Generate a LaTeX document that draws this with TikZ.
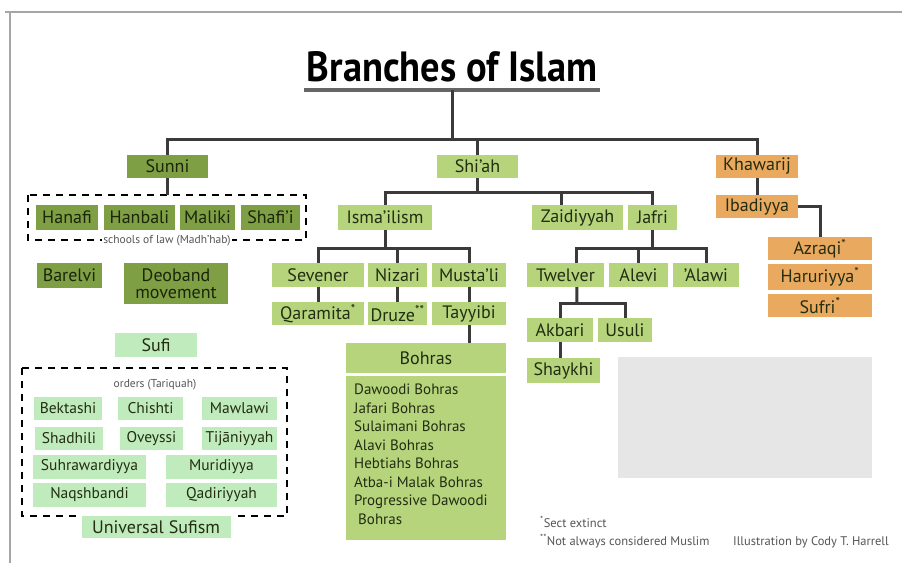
\documentclass[tikz,border=0pt]{standalone}
\usepackage{fontspec}
\setmainfont{PT Sans}
\usepackage{graphicx}
\usetikzlibrary{calc}
\definecolor{sunnig}{HTML}{7F9F45}
\definecolor{shiag}{HTML}{B5D47C}
\definecolor{orng}{HTML}{E9A95E}
\definecolor{mint}{HTML}{C0EBBD}
\definecolor{txtd}{HTML}{1A250A}
\definecolor{txt}{HTML}{222D12}
\definecolor{lineC}{HTML}{3A3A3A}
\definecolor{grayrect}{HTML}{E6E6E6}
\definecolor{notec}{HTML}{555555}
\newcommand\putbox[7]{\node[#1,minimum width={(#5-#3)*1pt},minimum height={(#6-#4)*1pt}] (#2) at ({(#3+#5)/2},{(#4+#6)/2}) {#7};}
\begin{document}
\begin{tikzpicture}[x=1pt,y=-1pt,
  box/.style={rectangle,inner sep=0pt,align=center,font=\fontsize{18}{17}\selectfont,text=txt},
  sunnibox/.style={box,fill=sunnig,text=txtd},
  shiabox/.style={box,fill=shiag},
  orbox/.style={box,fill=orng},
  sufibox/.style={box,fill=mint,font=\fontsize{15.5}{16}\selectfont},
  conn/.style={draw=lineC,line width=3pt},
  dbox/.style={draw=black,line width=2.5pt,dash pattern=on 7pt off 6pt},
  small/.style={font=\fontsize{11.5}{12}\selectfont,text=notec,inner sep=1pt},
  note/.style={font=\fontsize{12.5}{13}\selectfont,text=notec,inner sep=0pt,anchor=base west}]
\useasboundingbox (0,0) rectangle (902,563);
\fill[white] (0,0) rectangle (902,563);
% frame
\draw[gray!70,line width=2pt] (5,12) -- (902,12);
\draw[gray!70,line width=2pt] (10,12) -- (10,563);
% title
\node[inner sep=0pt] (title) at (452,67) {\resizebox{290pt}{30pt}{\bfseries Branches of Islam}};
\draw[draw=gray!80!black,line width=3.5pt] (304,90) -- (600,90);
\coordinate (ul) at (452,90);
% top level
\putbox{sunnibox}{sunni}{127}{155}{208}{178}{Sunni}
\putbox{shiabox}{shia}{437}{155}{518}{178}{Shi'ah}
\putbox{orbox}{khaw}{716}{155}{798}{178}{Khawarij}
\coordinate (j1) at (452,139);
\draw[conn] (ul) -- (j1);
\draw[conn] (sunni.north) |- (j1) -| (khaw.north);
\draw[conn] (shia.north) -- (shia.north |- j1);
% Sunni
\draw[dbox] (28,195) rectangle (306,240);
\coordinate (sl) at (167.5,195);
\draw[conn] (sunni.south) -- (sl);
\putbox{sunnibox}{hanafi}{36}{205}{98}{230}{Hanafi}
\putbox{sunnibox}{hanbali}{104}{205}{175}{230}{Hanbali}
\putbox{sunnibox}{maliki}{180}{205}{235}{230}{Maliki}
\putbox{sunnibox}{shafii}{241}{205}{300}{230}{Shafi'i}
\node[small,fill=white] (schools) at (167,241) {schools of law (Madh'hab)};
\putbox{sunnibox}{barelvi}{37}{263}{102}{288}{Barelvi}
\putbox{sunnibox}{deoband}{124}{263}{228}{304}{Deoband\\movement}
% Sufi
\putbox{sufibox}{sufi}{115}{333}{197}{357}{\fontsize{18}{17}\selectfont Sufi}
\draw[dbox] (22,368) rectangle (287,516);
\node[small] (orders) at (155,385) {orders (Tariquah)};
\putbox{sufibox}{bektashi}{34}{397}{102}{420}{Bektashi}
\putbox{sufibox}{chishti}{118}{397}{183}{420}{Chishti}
\putbox{sufibox}{mawlawi}{202}{397}{277}{420}{Mawlawi}
\putbox{sufibox}{shadhili}{35}{427}{103}{450}{Shadhili}
\putbox{sufibox}{oveyssi}{120}{427}{183}{450}{Oveyssi}
\putbox{sufibox}{tijani}{202}{427}{277}{450}{Tijāniyyah}
\putbox{sufibox}{suhraw}{33}{455}{146}{479}{Suhrawardiyya}
\putbox{sufibox}{muridiyya}{166}{455}{277}{479}{Muridiyya}
\putbox{sufibox}{naqsh}{33}{483}{146}{507}{Naqshbandi}
\putbox{sufibox}{qadiri}{166}{483}{277}{507}{Qadiriyyah}
\node[sufibox,draw=white,line width=3pt,minimum width=152pt,minimum height=25pt,font=\fontsize{18}{17}\selectfont] (universal) at (156,527) {Universal Sufism};
% Shi'ah
\putbox{shiabox}{isma}{338}{205}{432}{230}{Isma'ilism}
\putbox{shiabox}{zaid}{532}{205}{623}{230}{Zaidiyyah}
\putbox{shiabox}{jafri}{628}{205}{677}{230}{Jafri}
\coordinate (j2) at (477.5,192);
\draw[conn] (shia.south) -- (j2);
\draw[conn] (isma.north) |- (j2) -| (jafri.north);
\draw[conn] ([xshift=30pt]zaid.north west) -- ([xshift=30pt]zaid.north west |- j2);
% Isma'ilism
\putbox{shiabox}{sevener}{272}{263}{364}{287}{Sevener}
\putbox{shiabox}{nizari}{368}{263}{427}{287}{Nizari}
\putbox{shiabox}{mustali}{432}{263}{506}{287}{Musta'li}
\coordinate (j3) at (385,248);
\draw[conn] (isma.south) -- (j3);
\draw[conn] (sevener.north) |- (j3) -| (mustali.north);
\draw[conn] (nizari.north) -- (nizari.north |- j3);
\putbox{shiabox}{qaramita}{272}{302}{364}{325}{Qaramita\textsuperscript{*}}
\putbox{shiabox}{druze}{368}{302}{427}{325}{Druze\textsuperscript{**}}
\putbox{shiabox}{tayyibi}{432}{302}{506}{325}{Tayyibi}
\draw[conn] (sevener.south) -- (qaramita.north);
\draw[conn] (nizari.south) -- (druze.north);
\draw[conn] (mustali.south) -- (tayyibi.north);
% Bohras
\putbox{shiabox}{bohras}{346}{343}{506}{540}{}
\draw[conn] (tayyibi.south) -- (tayyibi.south |- bohras.north);
\draw[white,line width=3pt] (bohras.north west |- 0,374) -- (bohras.north east |- 0,374);
\node[box] (bohrashead) at (426,358) {Bohras};
\node[box,anchor=north west,align=left,font=\fontsize{15}{18.5}\selectfont] (bohraslist) at (354,384) {Dawoodi Bohras\\Jafari Bohras\\Sulaimani Bohras\\Alavi Bohras\\Hebtiahs Bohras\\Atba-i Malak Bohras\\Progressive Dawoodi\\\ Bohras};
% Jafri
\putbox{shiabox}{twelver}{527}{263}{604}{287}{Twelver}
\putbox{shiabox}{alevi}{609}{263}{668}{287}{Alevi}
\putbox{shiabox}{alawi}{673}{263}{739}{287}{'Alawi}
\coordinate (j4) at (652.5,248);
\draw[conn] (jafri.south) -- (j4);
\draw[conn] ([xshift=50pt]twelver.north west) |- (j4) -| (alawi.north);
\draw[conn] (alevi.north) -- (alevi.north |- j4);
\putbox{shiabox}{akbari}{527}{318}{593}{342}{Akbari}
\putbox{shiabox}{usuli}{598}{318}{652}{342}{Usuli}
\putbox{shiabox}{shaykhi}{527}{358}{600}{383}{Shaykhi}
\coordinate (j5) at (577,303);
\draw[conn] ([xshift=50pt]twelver.south west) -- (j5);
\draw[conn] (akbari.north) |- (j5) -| (usuli.north);
\draw[conn] (akbari.south) -- (akbari.south |- shaykhi.north);
% Khawarij
\putbox{orbox}{ibad}{716}{195}{798}{218}{Ibadiyya}
\draw[conn] (khaw.south) -- (ibad.north);
\putbox{orbox}{azraqi}{768}{237}{872}{260}{Azraqi\textsuperscript{*}}
\putbox{orbox}{haruri}{768}{264}{872}{290}{Haruriyya\textsuperscript{*}}
\putbox{orbox}{sufri}{768}{294}{872}{317}{Sufri\textsuperscript{*}}
\draw[conn] (ibad.east) -| (azraqi.north);
% grey panel
\fill[grayrect] (618,357) rectangle (872,478);
% notes
\node[note] (n1) at (540,527) {\textsuperscript{*}Sect extinct};
\node[note] (n2) at (540,545) {\textsuperscript{**}Not always considered Muslim};
\node[note] (credit) at (733,545) {Illustration by Cody T. Harrell};
\end{tikzpicture}
\end{document}
